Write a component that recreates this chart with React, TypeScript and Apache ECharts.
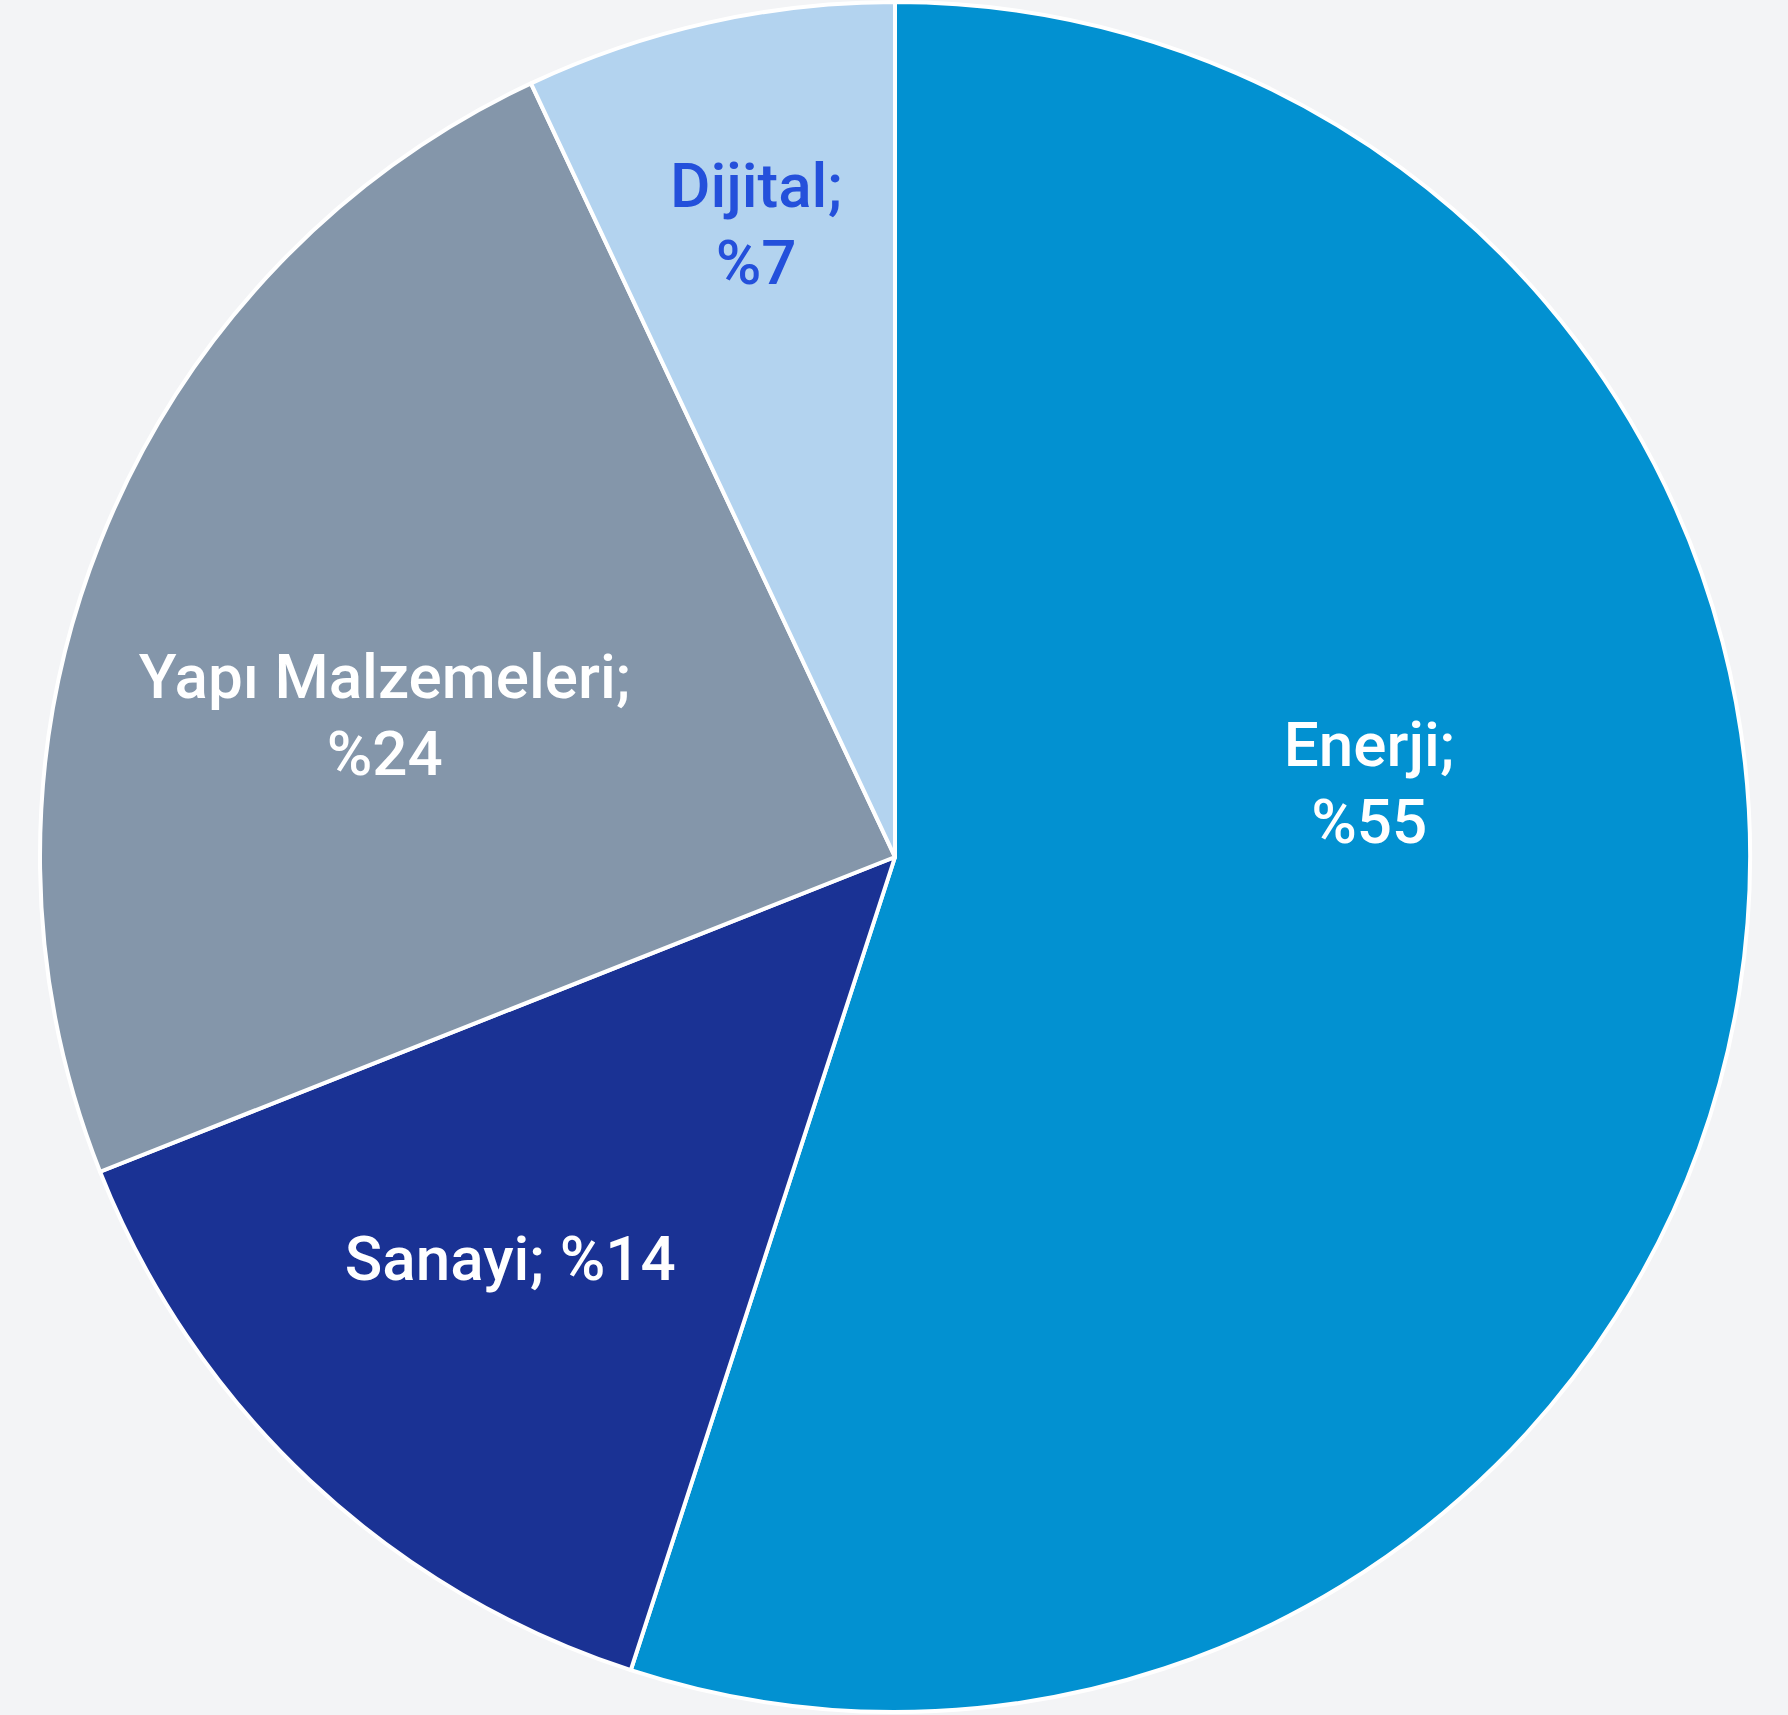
import React, { useEffect, useRef } from "react";
import * as echarts from "echarts";

const categories = ["Enerji", "Sanayi", "Yapı Malzemeleri", "Dijital"];
const values = [55, 14, 24, 7];
const colors = ["#0291d1", "#1a3294", "#8496aa", "#b3d3ef"];
const labelColors = ["#ffffff", "#ffffff", "#ffffff", "#2450db"];
const labelSeparators = ["\n", " ", "\n", "\n"];
const labelShift = [
  [49, -141],
  [-90, 88],
  [-110, 16],
  [-45, -213],
];

export default function App() {
  const ref = useRef<HTMLDivElement>(null);
  useEffect(() => {
    if (!ref.current) return;
    const chart = echarts.init(ref.current, undefined, { renderer: "svg" });
    chart.setOption({
      animation: false,
      backgroundColor: "#f3f4f6",
      series: [
        {
          type: "pie",
          center: [895, 857],
          radius: 855,
          startAngle: 90,
          clockwise: true,
          avoidLabelOverlap: false,
          itemStyle: { borderColor: "#ffffff", borderWidth: 4 },
          label: {
            show: true,
            position: "inside",
            fontFamily: "Roboto",
            fontWeight: 500,
            fontSize: 62,
            lineHeight: 77,
            align: "center",
          },
          labelLine: { show: false },
          emphasis: { disabled: true },
          labelLayout: (p: any) => ({
            dx: labelShift[p.dataIndex][0],
            dy: labelShift[p.dataIndex][1],
          }),
          data: categories.map((c, i) => ({
            name: c,
            value: values[i],
            itemStyle: { color: colors[i] },
            label: {
              color: labelColors[i],
              formatter: `${c};${labelSeparators[i]}%${values[i]}`,
            },
          })),
        },
      ],
    });
    return () => chart.dispose();
  }, []);
  return (
    <div
      ref={ref}
      style={{ position: "absolute", left: 0, top: 0, width: 1788, height: 1715 }}
    />
  );
}
